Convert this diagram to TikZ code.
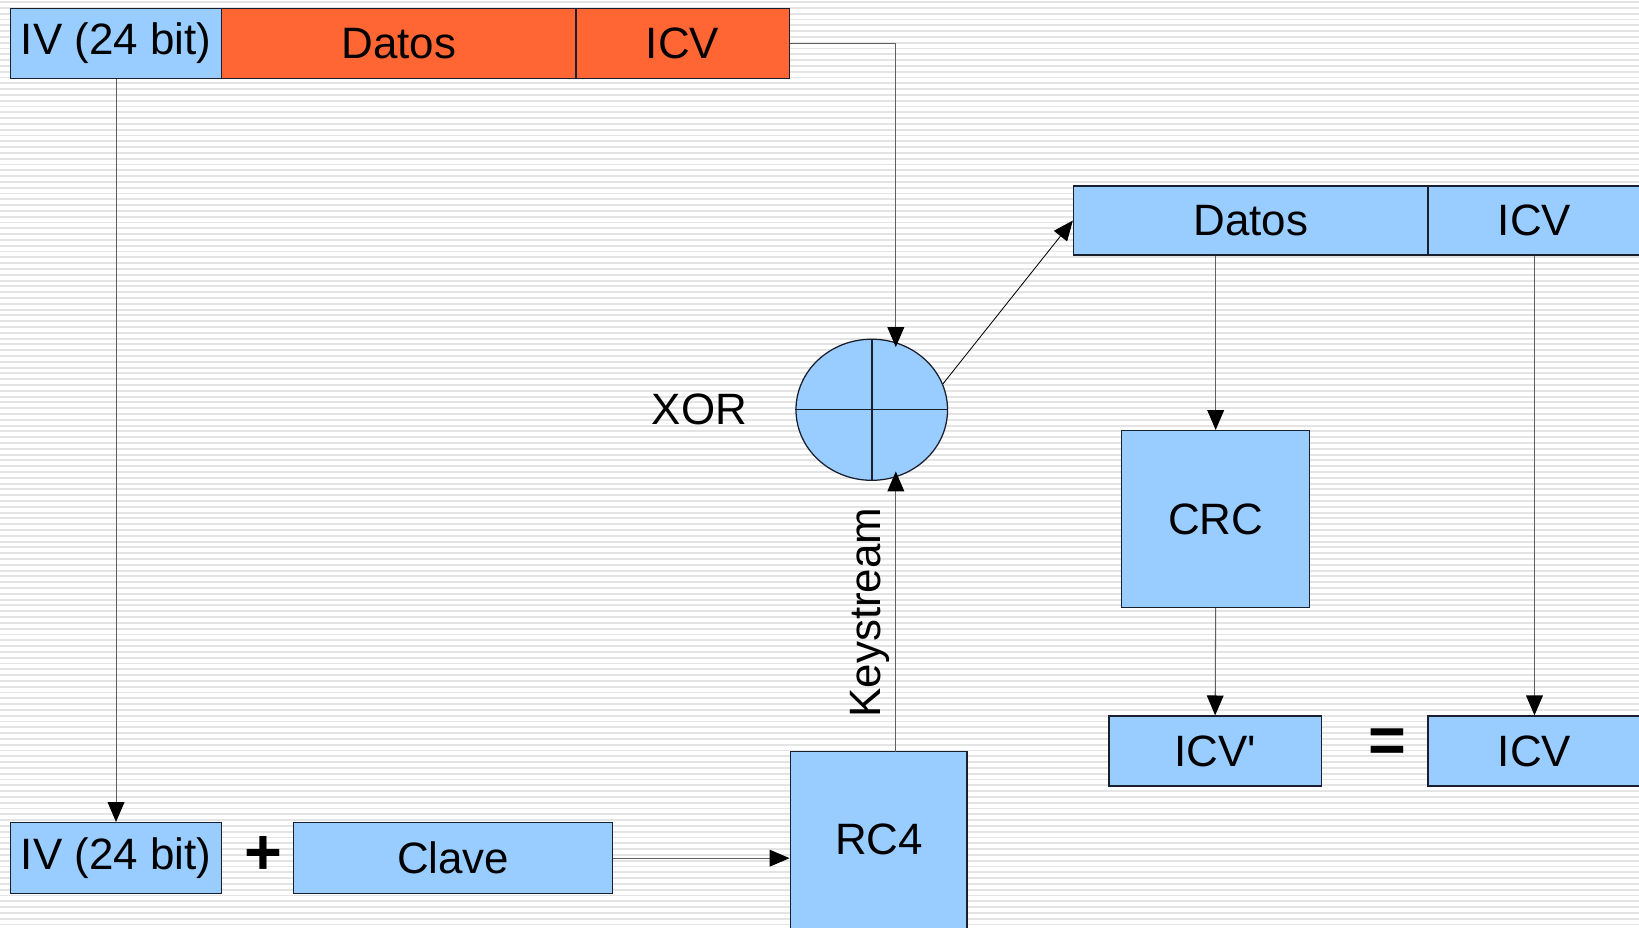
\documentclass[tikz,border=0pt]{standalone}
\usepackage{fontspec}
\setmainfont{Liberation Sans}
\newfontfamily\plainsans{Liberation Sans}[Ligatures=TeXOff]
\usetikzlibrary{arrows.meta,shapes.geometric}
\definecolor{lblue}{HTML}{99CCFF}
\definecolor{orng}{HTML}{FF6633}
\definecolor{edgec}{HTML}{1A1F2E}
\definecolor{conc}{HTML}{606060}
\definecolor{stripec}{HTML}{E4E4E4}
\begin{document}
\begin{tikzpicture}[x=1pt,y=-1pt,
  box/.style={draw=edgec, line width=1.3pt, fill=lblue, inner sep=0pt,
    font=\fontsize{42}{50}\selectfont},
  redbox/.style={box, fill=orng},
  lbl/.style={inner sep=0pt, font=\fontsize{42}{50}\selectfont},
  bigsym/.style={inner sep=0pt, font=\fontsize{62}{70}\selectfont\bfseries},
  conn/.style={draw=conc, line width=1pt,
    -{Triangle[length=19pt,width=16pt,color=black]}},
  plain/.style={draw=conc, line width=1pt}
]
\useasboundingbox (0,0) rectangle (1568,887);
\fill[white] (0,0) rectangle (1568,887);
\foreach \i in {0,...,160} {
  \draw[stripec, line width=1.8pt] (0,\i*5.55+2) -- (1568,\i*5.55+2);
}
\clip (0,0) rectangle (1568,887);

% top packet
\node[box, minimum width=202pt, minimum height=67pt] (ivtop) at (111,41.5) {IV (24 bit)};
\node[redbox, minimum width=339pt, minimum height=67pt] (datostop) at (381.5,41.5) {Datos};
\node[redbox, minimum width=204pt, minimum height=67pt] (icvtop) at (653,41.5) {ICV};

% bottom key
\node[box, minimum width=202pt, minimum height=68pt] (ivbot) at (111,821) {IV (24 bit)};
\node[bigsym] (plus) at (252,818) {+};
\node[box, minimum width=305pt, minimum height=68pt] (clave) at (433.5,821) {Clave};

% RC4
\node[box, minimum width=169pt, minimum height=190pt] (rc4) at (840.5,814) {};
\node[lbl] (rc4t) at (841,803) {RC4};

% XOR
\node[draw=edgec, line width=1.2pt, fill=lblue, ellipse, minimum width=145pt, minimum height=135pt, inner sep=0pt] (xor) at (834,392) {};
\draw[edgec, line width=1.4pt] (xor.north) -- (xor.south);
\draw[edgec, line width=1.4pt] (xor.west) -- (xor.east);
\node[lbl] (xorl) at (669,392) {XOR};

% right side
\node[box, minimum width=339pt, minimum height=66pt] (datos2) at (1196.5,211) {Datos};
\node[box, minimum width=204pt, minimum height=66pt] (icvr) at (1468,211) {ICV};
\node[box, minimum width=180pt, minimum height=169pt] (crc) at (1163,496.5) {CRC};
\node[box, minimum width=203pt, minimum height=67pt] (icvp) at (1162.5,718.5) {\plainsans ICV'};
\node[bigsym] (eq) at (1327,713) {=};
\node[box, minimum width=204pt, minimum height=67pt] (icvb) at (1468,718.5) {ICV};

% coordinates
\coordinate (xin) at (857,332);
\coordinate (xbot) at (857,451);
\coordinate (ks) at (857,719);
\coordinate (bend) at (857,41.5);

% connectors
\draw[conn] (ivtop.south) -- (ivbot.north);
\draw[conn] (clave.east) -- (rc4.west |- clave.east);
\draw[plain] (icvtop.east) -- (bend);
\draw[conn] (bend) -- (xin);
\draw[conn] (ks) -- (xbot);
\node[lbl, rotate=90] (kslbl) at (832,586) {Keystream};
\draw[draw=black, line width=0.8pt, -{Triangle[length=19pt,width=16pt,color=black]}] (xor.20) -- (datos2.west);
\draw[conn] (crc.north |- datos2.south) -- (crc.north);
\draw[conn] (crc.south) -- (icvp.north);
\draw[conn] (icvr.south) -- (icvb.north);
\end{tikzpicture}
\end{document}
